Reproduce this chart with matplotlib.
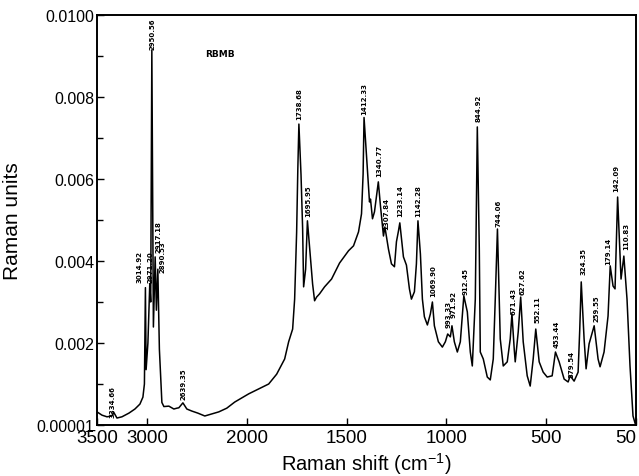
import numpy as np
import matplotlib
matplotlib.use("Agg")
import matplotlib.pyplot as plt

# Spectrum: Raman shift (cm-1) and intensity (Raman units)
shift = [3500, 3450, 3400, 3350, 3334.66, 3300, 3250, 3180, 3120, 3070, 3040, 3025,
         3014.92, 3008, 2990, 2971.20, 2962, 2950.56, 2935, 2917.18, 2905, 2890.53,
         2875, 2850, 2830, 2780, 2730, 2700, 2680, 2639.35, 2600, 2550, 2490, 2420,
         2350, 2280, 2200, 2120, 2050, 1990, 1940, 1890, 1850, 1810, 1790, 1770, 1760,
         1750, 1744, 1738.68, 1728, 1720, 1715, 1705, 1695.95, 1680, 1670, 1660, 1650,
         1635, 1610, 1575, 1535, 1490, 1465, 1440, 1425, 1417, 1412.33, 1395, 1385,
         1380, 1370, 1360, 1340.77, 1330, 1315, 1307.84, 1290, 1275, 1260, 1250, 1240,
         1233.14, 1215, 1200, 1185, 1175, 1160, 1150, 1142.28, 1130, 1120, 1110, 1095,
         1080, 1069.90, 1060, 1040, 1020, 1005, 993.33, 980, 971.92, 960, 945, 930,
         912.45, 895, 880, 870, 855, 844.92, 835, 830, 815, 795, 780, 765, 755, 744.06,
         735, 730, 715, 695, 680, 671.43, 660, 655, 640, 627.62, 615, 595, 580, 565,
         552.11, 535, 515, 495, 470, 453.44, 435, 410, 390, 379.54, 360, 340, 332,
         324.35, 310, 300, 285, 259.55, 240, 230, 210, 190, 179.14, 165, 155, 142.09,
         125, 110.83, 95, 80, 65, 52]
intensity = [0.00032, 0.00024, 0.00020, 0.00022, 0.00032, 0.00017, 0.00020, 0.00029,
             0.00039, 0.00051, 0.00068, 0.00100, 0.00335, 0.00135, 0.00200, 0.00345,
             0.00300, 0.00915, 0.00239, 0.00410, 0.00280, 0.00380, 0.00185, 0.00055,
             0.00045, 0.00046, 0.00039, 0.00041, 0.00042, 0.00054, 0.00039, 0.00034,
             0.00029, 0.00022, 0.00027, 0.00032, 0.00041, 0.00056, 0.00066, 0.00076,
             0.00088, 0.00100, 0.00124, 0.00161, 0.00203, 0.00234, 0.00307, 0.00470,
             0.00625, 0.00734, 0.00610, 0.00480, 0.00337, 0.00380, 0.00498, 0.00405,
             0.00344, 0.00303, 0.00312, 0.00320, 0.00337, 0.00356, 0.00395, 0.00425,
             0.00437, 0.00471, 0.00515, 0.00612, 0.00750, 0.00617, 0.00544, 0.00551,
             0.00503, 0.00520, 0.00593, 0.00534, 0.00461, 0.00483, 0.00429, 0.00393,
             0.00386, 0.00447, 0.00473, 0.00493, 0.00410, 0.00390, 0.00332, 0.00307,
             0.00325, 0.00393, 0.00498, 0.00417, 0.00307, 0.00264, 0.00244, 0.00271,
             0.00300, 0.00242, 0.00203, 0.00190, 0.00203, 0.00222, 0.00215, 0.00242,
             0.00203, 0.00178, 0.00203, 0.00315, 0.00276, 0.00178, 0.00144, 0.00307,
             0.00727, 0.00430, 0.00178, 0.00161, 0.00117, 0.00110, 0.00161, 0.00307,
             0.00478, 0.00307, 0.00210, 0.00144, 0.00154, 0.00210, 0.00271, 0.00185,
             0.00154, 0.00227, 0.00312, 0.00203, 0.00120, 0.00095, 0.00161, 0.00234,
             0.00154, 0.00129, 0.00117, 0.00120, 0.00178, 0.00154, 0.00112, 0.00105,
             0.00120, 0.00107, 0.00129, 0.00230, 0.00349, 0.00210, 0.00137, 0.00198,
             0.00242, 0.00161, 0.00142, 0.00178, 0.00266, 0.00388, 0.00339, 0.00332,
             0.00556, 0.00356, 0.00412, 0.00307, 0.00144, 0.00022, 0.00000]

# Peak annotations: text, anchor wavenumber, anchor intensity (bottom of text)
peak_labels = ["3334.66", "3014.92", "2971.20", "2950.56", "2917.18", "2890.53",
               "2639.35", "1738.68", "1695.95", "1412.33", "1340.77", "1307.84",
               "1233.14", "1142.28", "1069.90", "993.33", "971.92", "912.45",
               "844.92", "744.06", "671.43", "627.62", "552.11", "453.44",
               "379.54", "324.35", "259.55", "179.14", "142.09", "110.83"]
label_x = [3345, 3075, 2965, 2940, 2880, 2845, 2630, 1735, 1690, 1410, 1335, 1300,
           1230, 1140, 1065, 990, 965, 905, 840, 740, 665, 620, 545, 450, 375, 315,
           250, 190, 150, 100]
label_y = [0.00020, 0.00349, 0.00349, 0.00917, 0.00422, 0.00373, 0.00063, 0.00747,
           0.00510, 0.00759, 0.00608, 0.00478, 0.00510, 0.00510, 0.00315, 0.00239,
           0.00264, 0.00320, 0.00742, 0.00486, 0.00271, 0.00320, 0.00251, 0.00190,
           0.00117, 0.00368, 0.00254, 0.00393, 0.00571, 0.00430]

x_ticks = [3500, 3000, 2000, 1500, 1000, 500, 50]
x_ticklabels = ["3500", "3000", "2000", "1500", "1000", "500", "50"]
y_ticks = [0.00001, 0.002, 0.004, 0.006, 0.008, 0.0100]
y_ticklabels = ["0.00001", "0.002", "0.004", "0.006", "0.008", "0.0100"]
y_minor = [0.001, 0.003, 0.005, 0.007, 0.009]


def fwd(x):
    x = np.asarray(x, dtype=float)
    return np.where(x > 2000, 2000 + (x - 2000) / 2.0, x)


def inv(t):
    t = np.asarray(t, dtype=float)
    return np.where(t > 2000, 2000 + (t - 2000) * 2.0, t)


plt.rcParams['font.family'] = ['Liberation Sans', 'DejaVu Sans']
plt.rcParams['mathtext.fontset'] = 'custom'
plt.rcParams['mathtext.rm'] = 'Liberation Sans'
plt.rcParams['mathtext.it'] = 'Liberation Sans:italic'

fig = plt.figure(figsize=(6.39, 4.77), dpi=100)
ax = fig.add_axes([97 / 639, 1 - 426 / 477, (636 - 97) / 639, (426 - 16) / 477])
ax.set_xscale('function', functions=(fwd, inv))
ax.plot(shift, intensity, color='black', lw=1.1)
ax.set_xlim(3500, 50)
ax.set_ylim(0, 0.0100)

ax.set_xticks(x_ticks)
ax.set_xticklabels(x_ticklabels)
ax.set_yticks(y_ticks)
ax.set_yticklabels(y_ticklabels)
ax.set_yticks(y_minor, minor=True)
ax.xaxis.set_minor_locator(matplotlib.ticker.NullLocator())
ax.tick_params(axis='both', which='major', direction='in', length=5, width=1, pad=2)
ax.tick_params(axis='y', which='major', labelsize=11.5)
ax.tick_params(axis='x', which='major', labelsize=13.5, pad=3)
ax.tick_params(axis='y', which='minor', direction='in', length=4, width=1)
ax.get_xticklabels()[-1].set_horizontalalignment('right')
for s in ax.spines.values():
    s.set_linewidth(1.4)

ax.set_xlabel("Raman shift (cm$^{-1}$)", fontsize=14.5)
ax.set_ylabel("Raman units", fontsize=15)
ax.xaxis.set_label_coords(0.5, -0.062)
ax.yaxis.set_label_coords(-0.139, 0.5)

for t, x, y in zip(peak_labels, label_x, label_y):
    ax.text(x, y, t, rotation=90, ha='center', va='bottom', fontsize=5,
            family='DejaVu Sans', fontweight='bold')

ax.text(2270, 0.00905, "RBMB", fontsize=6.5, fontweight='bold', family='DejaVu Sans',
        ha='center', va='center')

fig.savefig("out.png", dpi=100)
